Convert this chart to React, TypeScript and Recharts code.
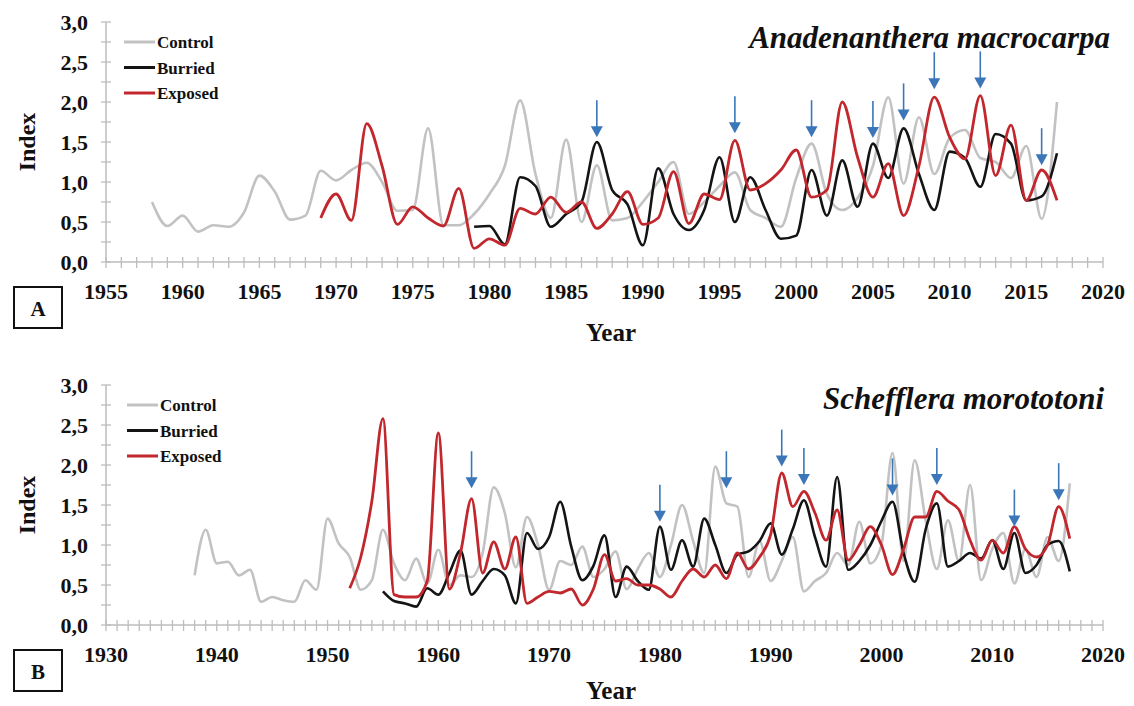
import { ComposedChart, Line, Scatter, XAxis, YAxis } from "recharts";

const FONT = '"Liberation Serif", "Times New Roman", serif';
const GREY = "#c2c2c2";
const BLACK = "#141414";
const RED = "#c1272d";
const BLUE = "#3a76b8";
const AXIS = "#bdbdbd";

// ---- A: Anadenanthera macrocarpa ----
const A_YEARS = [1955, 2020];
const A_LABEL_YEARS = [1955, 1960, 1965, 1970, 1975, 1980, 1985, 1990, 1995, 2000, 2005, 2010, 2015, 2020];

const A_CONTROL_START = 1958;
const A_CONTROL = [
  0.75, 0.45, 0.58, 0.38, 0.46, 0.44, 0.62, 1.08, 0.88, 0.53,
  0.58, 1.14, 1.02, 1.15, 1.24, 1.0, 0.64, 0.65, 1.67, 0.46,
  0.46, 0.6, 0.85, 1.2, 2.02, 1.1, 0.55, 1.53, 0.5, 1.21,
  0.52, 0.55, 0.75, 1.0, 1.25, 0.6, 0.75, 0.95, 1.12, 0.65,
  0.55, 0.44, 1.05, 1.48, 0.85, 0.65, 0.8, 1.2, 2.06, 0.98,
  1.81, 1.1, 1.55, 1.65, 1.3, 1.25, 1.05, 1.45, 0.54, 2.0,
];

const A_BURRIED_START = 1979;
const A_BURRIED = [
  0.44, 0.45, 0.22, 1.06, 0.95, 0.44, 0.6, 0.75, 1.5, 0.9,
  0.72, 0.21, 1.17, 0.6, 0.4, 0.65, 1.31, 0.5, 1.06, 0.65,
  0.29, 0.33, 1.15, 0.58, 1.27, 0.69, 1.48, 1.05, 1.67, 1.1,
  0.65, 1.38, 1.3, 0.94, 1.6, 1.48, 0.77, 0.82, 1.36,
];

const A_EXPOSED_START = 1969;
const A_EXPOSED = [
  0.55, 0.85, 0.52, 1.73, 1.2, 0.47, 0.69, 0.55, 0.45, 0.92,
  0.17, 0.29, 0.21, 0.67, 0.6, 0.81, 0.62, 0.75, 0.42, 0.6,
  0.88, 0.47, 0.55, 1.13, 0.48, 0.85, 0.78, 1.52, 0.9, 0.98,
  1.15, 1.4, 0.81, 0.9, 2.0, 1.31, 0.81, 1.23, 0.58, 1.2,
  2.06, 1.56, 1.29, 2.08, 1.08, 1.71, 0.77, 1.15, 0.77,
];

const A_ARROW_YEARS = [1987, 1996, 2001, 2005, 2007, 2009, 2012, 2016];
const A_ARROW_TIPS = [1.56, 1.61, 1.56, 1.55, 1.77, 2.16, 2.17, 1.21];

// ---- B: Schefflera morototoni ----
const B_YEARS = [1930, 2020];
const B_LABEL_YEARS = [1930, 1940, 1950, 1960, 1970, 1980, 1990, 2000, 2010, 2020];

const B_CONTROL_START = 1938;
const B_CONTROL = [
  0.62, 1.19, 0.77, 0.79, 0.62, 0.69, 0.29, 0.35, 0.31, 0.29,
  0.56, 0.44, 1.33, 1.02, 0.85, 0.44, 0.56, 1.19, 0.77, 0.56,
  0.83, 0.52, 0.94, 0.5, 0.62, 0.6, 0.9, 1.72, 1.4, 0.72,
  1.35, 1.0, 0.44, 0.8, 0.75, 0.98, 0.6, 0.7, 0.92, 0.45,
  0.7, 0.9, 0.6, 1.0, 1.5, 1.05, 0.65, 1.98, 1.52, 1.48,
  0.6, 1.05, 0.55, 0.8, 1.1, 0.42, 0.55, 0.65, 0.9, 0.75,
  1.29, 0.77, 1.0, 2.15, 0.8, 2.06, 1.3, 0.7, 1.31, 0.8,
  1.75, 0.56, 0.95, 1.15, 0.52, 0.95, 0.6, 1.1, 0.8, 1.77,
];

const B_BURRIED_START = 1955;
const B_BURRIED = [
  0.42, 0.3, 0.27, 0.23, 0.46, 0.38, 0.65, 0.93, 0.38, 0.55,
  0.7, 0.62, 0.27, 1.15, 0.95, 1.1, 1.54, 0.98, 0.56, 0.74,
  1.12, 0.35, 0.73, 0.55, 0.44, 1.23, 0.69, 1.06, 0.73, 1.33,
  1.0, 0.65, 0.88, 0.92, 1.05, 1.27, 0.88, 1.2, 1.56, 1.1,
  0.73, 1.85, 0.69, 0.8, 1.0, 1.3, 1.54, 0.9, 0.54, 1.2,
  1.52, 0.73, 0.8, 0.9, 0.83, 1.06, 0.7, 1.15, 0.65, 0.75,
  1.0, 1.05, 0.67,
];

const B_EXPOSED_START = 1952;
const B_EXPOSED = [
  0.46, 0.85, 1.55, 2.58, 0.38, 0.35, 0.35, 0.55, 2.4, 0.45,
  0.9, 1.58, 0.65, 1.04, 0.7, 1.1, 0.27, 0.35, 0.42, 0.4,
  0.45, 0.25, 0.45, 0.88, 0.55, 0.58, 0.5, 0.5, 0.45, 0.35,
  0.55, 0.7, 0.6, 0.75, 0.58, 0.9, 0.7, 0.85, 1.13, 1.9,
  1.48, 1.67, 1.4, 1.06, 1.44, 0.81, 1.0, 1.23, 1.0, 0.63,
  0.95, 1.35, 1.35, 1.67, 1.55, 1.44, 1.06, 0.81, 1.06, 0.9,
  1.23, 0.95, 0.85, 1.0, 1.48, 1.08,
];

const B_ARROW_YEARS = [1963, 1980, 1986, 1991, 1993, 2001, 2005, 2012, 2016];
const B_ARROW_TIPS = [1.71, 1.29, 1.71, 1.98, 1.75, 1.62, 1.75, 1.23, 1.56];

const Y_TICKS = [0, 0.25, 0.5, 0.75, 1, 1.25, 1.5, 1.75, 2, 2.25, 2.5, 2.75, 3];

const toPoints = (start: number, values: number[]) =>
  values.map((v, i) => ({ year: start + i, v }));

const XTick = (props: any) => {
  const { x, y, payload, labels } = props;
  const show = labels.includes(payload.value);
  return (
    <g>
      <line x1={x} x2={x} y1={y - 5} y2={y + 6} stroke={AXIS} strokeWidth={1.3} />
      {show && (
        <text x={x} y={y + 37} textAnchor="middle" fontFamily={FONT} fontWeight="bold" fontSize={22} fill="#111">
          {payload.value}
        </text>
      )}
    </g>
  );
};

const YTick = (props: any) => {
  const { x, y, payload } = props;
  const v = payload.value as number;
  const show = Math.abs(v * 2 - Math.round(v * 2)) < 1e-6;
  return (
    <g>
      <line x1={x - 5} x2={x + 5} y1={y} y2={y} stroke={AXIS} strokeWidth={1.3} />
      {show && (
        <text x={x - 18} y={y + 8} textAnchor="end" fontFamily={FONT} fontWeight="bold" fontSize={22} fill="#111">
          {v.toFixed(1).replace(".", ",")}
        </text>
      )}
    </g>
  );
};

const Arrow = (props: any) => {
  const { cx, cy } = props;
  return (
    <g>
      <line x1={cx} x2={cx} y1={cy - 37} y2={cy - 8} stroke={BLUE} strokeWidth={1.6} />
      <path d={`M${cx - 6},${cy - 11} L${cx + 6},${cy - 11} L${cx},${cy} Z`} fill={BLUE} />
    </g>
  );
};

interface PanelProps {
  top: number;
  years: number[];
  labelYears: number[];
  control: { year: number; v: number }[];
  burried: { year: number; v: number }[];
  exposed: { year: number; v: number }[];
  arrows: { year: number; v: number }[];
}

function Panel({ top, years, labelYears, control, burried, exposed, arrows }: PanelProps) {
  const ticks: number[] = [];
  for (let yr = years[0]; yr <= years[1]; yr++) ticks.push(yr);
  return (
    <div style={{ position: "absolute", left: 0, top }}>
      <ComposedChart width={1134} height={343} margin={{ top: 22, right: 31, bottom: 0, left: 0 }}>
        <XAxis
          type="number"
          dataKey="year"
          domain={years}
          ticks={ticks}
          interval={0}
          height={81}
          tickSize={0}
          tickMargin={0}
          tickLine={false}
          axisLine={{ stroke: AXIS, strokeWidth: 1.5 }}
          tick={(p: any) => <XTick {...p} labels={labelYears} />}
        />
        <YAxis
          type="number"
          domain={[0, 3]}
          ticks={Y_TICKS}
          interval={0}
          width={106}
          tickSize={0}
          tickMargin={0}
          tickLine={false}
          axisLine={{ stroke: AXIS, strokeWidth: 1.5 }}
          tick={(p: any) => <YTick {...p} />}
        />
        <Line data={control} dataKey="v" type="monotone" stroke={GREY} strokeWidth={2.6} dot={false} activeDot={false} isAnimationActive={false} />
        <Line data={burried} dataKey="v" type="monotone" stroke={BLACK} strokeWidth={2.6} dot={false} activeDot={false} isAnimationActive={false} />
        <Line data={exposed} dataKey="v" type="monotone" stroke={RED} strokeWidth={2.8} dot={false} activeDot={false} isAnimationActive={false} />
        <Scatter data={arrows} dataKey="v" shape={Arrow} isAnimationActive={false} />
      </ComposedChart>
    </div>
  );
}

const LEGEND = [
  { name: "Control", color: GREY },
  { name: "Burried", color: BLACK },
  { name: "Exposed", color: RED },
];

interface OverlayProps {
  dy: number;
  title: string;
  titleEnd: number;
  titleY: number;
  yearY: number;
  letter: string;
  legendX: number;
}

function Overlay({ dy, title, titleEnd, titleY, yearY, letter, legendX }: OverlayProps) {
  return (
    <g transform={`translate(0, ${dy})`}>
      {LEGEND.map((l, i) => (
        <g key={l.name}>
          <line x1={legendX} x2={legendX + 31} y1={42 + i * 25.5} y2={42 + i * 25.5} stroke={l.color} strokeWidth={3} />
          <text x={legendX + 33} y={48 + i * 25.5} fontFamily={FONT} fontWeight="bold" fontSize={17} fill="#111">
            {l.name}
          </text>
        </g>
      ))}
      <text x={titleEnd} y={titleY} textAnchor="end" fontFamily={FONT} fontWeight="bold" fontStyle="italic" fontSize={31} fill="#111">
        {title}
      </text>
      <text x={35} y={142} transform="rotate(-90 35 142)" textAnchor="middle" fontFamily={FONT} fontWeight="bold" fontSize={24} fill="#111">
        Index
      </text>
      <text x={611} y={yearY} textAnchor="middle" fontFamily={FONT} fontWeight="bold" fontSize={25} fill="#111">
        Year
      </text>
      <rect x={14} y={287} width={48} height={41} fill="white" stroke="#111" strokeWidth={2} />
      <text x={38} y={316} textAnchor="middle" fontFamily={FONT} fontWeight="bold" fontSize={21} fill="#111">
        {letter}
      </text>
    </g>
  );
}

export default function App() {
  const arrowsA = A_ARROW_YEARS.map((year, i) => ({ year, v: A_ARROW_TIPS[i] }));
  const arrowsB = B_ARROW_YEARS.map((year, i) => ({ year, v: B_ARROW_TIPS[i] }));
  return (
    <div style={{ position: "absolute", left: 0, top: 0, width: 1134, height: 706, background: "white", overflow: "hidden" }}>
      <Panel
        top={0}
        years={A_YEARS}
        labelYears={A_LABEL_YEARS}
        control={toPoints(A_CONTROL_START, A_CONTROL)}
        burried={toPoints(A_BURRIED_START, A_BURRIED)}
        exposed={toPoints(A_EXPOSED_START, A_EXPOSED)}
        arrows={arrowsA}
      />
      <Panel
        top={363}
        years={B_YEARS}
        labelYears={B_LABEL_YEARS}
        control={toPoints(B_CONTROL_START, B_CONTROL)}
        burried={toPoints(B_BURRIED_START, B_BURRIED)}
        exposed={toPoints(B_EXPOSED_START, B_EXPOSED)}
        arrows={arrowsB}
      />
      <svg width={1134} height={706} style={{ position: "absolute", left: 0, top: 0, pointerEvents: "none" }}>
        <Overlay dy={0} title="Anadenanthera macrocarpa" titleEnd={1110} titleY={48} yearY={341} letter="A" legendX={124} />
        <Overlay dy={363} title="Schefflera morototoni" titleEnd={1104} titleY={46} yearY={336} letter="B" legendX={127} />
      </svg>
    </div>
  );
}
